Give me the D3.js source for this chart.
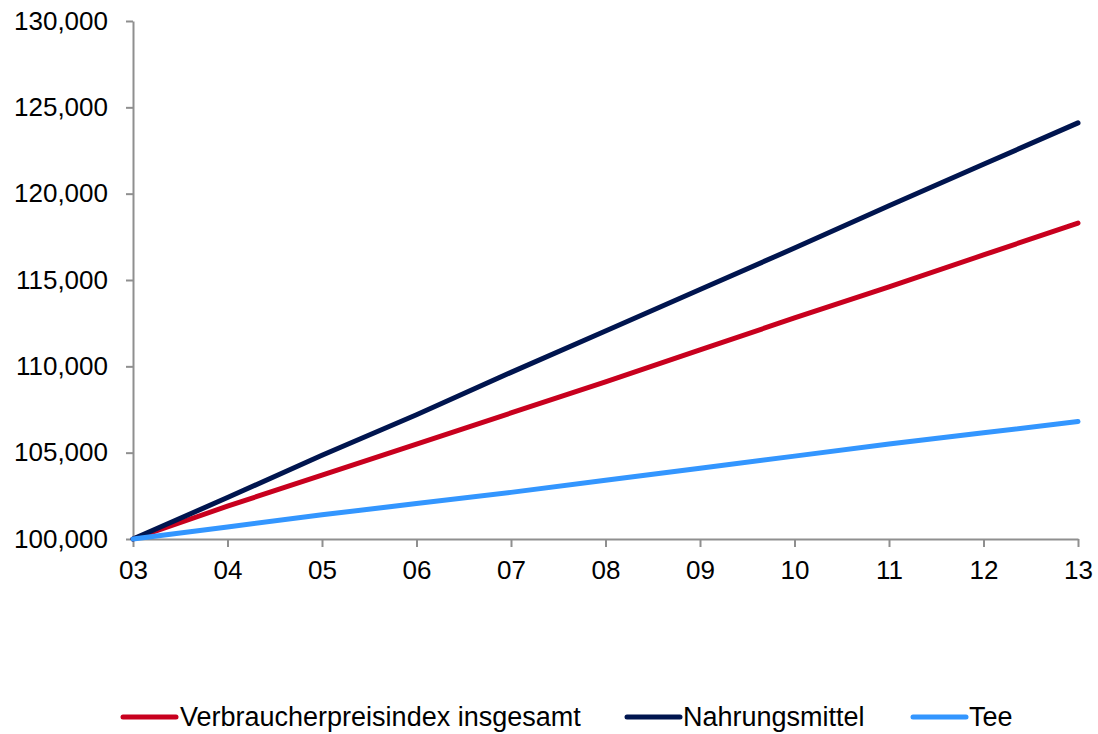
<!DOCTYPE html>
<html>
<head>
<meta charset="utf-8">
<script src="https://cdn.jsdelivr.net/npm/d3@7"></script>
<style>
  html, body { margin: 0; padding: 0; background: #fff; }
  svg { display: block; }
  text { font-family: "Liberation Sans", Arial, sans-serif; fill: #000; }
</style>
</head>
<body>
<svg id="chart" width="1098" height="734"></svg>
<script>
// Years (two-digit labels) on the category axis
const years = ["03", "04", "05", "06", "07", "08", "09", "10", "11", "12", "13"];

// Price indices, 2003 = 100
const verbraucherpreisindex = [100.0, 101.9, 103.7, 105.5, 107.3, 109.1, 110.95, 112.8, 114.6, 116.45, 118.3];
const nahrungsmittel        = [100.0, 102.4, 104.85, 107.2, 109.65, 112.05, 114.45, 116.85, 119.3, 121.7, 124.1];
const tee                   = [100.0, 100.7, 101.4, 102.05, 102.7, 103.4, 104.1, 104.8, 105.5, 106.15, 106.8];

const seriesNames  = ["Verbraucherpreisindex insgesamt", "Nahrungsmittel", "Tee"];
const seriesColors = ["#C8001E", "#00154F", "#3396FF"];

// Value axis ticks
const yTicks = [100, 105, 110, 115, 120, 125, 130];

const series = [
  { name: seriesNames[0], values: verbraucherpreisindex, color: seriesColors[0] },
  { name: seriesNames[1], values: nahrungsmittel,        color: seriesColors[1] },
  { name: seriesNames[2], values: tee,                   color: seriesColors[2] }
];

// German number formatting: comma as decimal separator
const de = d3.formatLocale({ decimal: ",", thousands: ".", grouping: [3], currency: ["", " €"] });
const fmt = de.format(".3f");

const svg = d3.select("#chart");
const plot = { left: 133, right: 1078, top: 21, bottom: 539 };

const x = d3.scalePoint().domain(years).range([plot.left, plot.right]);
const y = d3.scaleLinear().domain([100, 130]).range([plot.bottom, plot.top]);

const axisColor = "#8f8f8f";

// Y axis
const yAxis = svg.append("g")
  .attr("transform", `translate(${plot.left},0)`)
  .call(d3.axisLeft(y).tickValues(yTicks).tickFormat(fmt).tickSize(7).tickPadding(18).tickSizeOuter(0));

// X axis
const xAxis = svg.append("g")
  .attr("transform", `translate(0,${plot.bottom})`)
  .call(d3.axisBottom(x).tickSize(8).tickPadding(14).tickSizeOuter(0));

[yAxis, xAxis].forEach(g => {
  g.select(".domain").attr("stroke", axisColor).attr("stroke-width", 2);
  g.selectAll(".tick line").attr("stroke", axisColor).attr("stroke-width", 2);
  g.selectAll(".tick text")
    .attr("font-family", "'Liberation Sans', Arial, sans-serif")
    .attr("font-size", 26)
    .attr("fill", "#000");
});

// Lines
const line = d3.line()
  .x((d, i) => x(years[i]))
  .y(d => y(d));

svg.append("g")
  .selectAll("path")
  .data(series)
  .join("path")
  .attr("d", d => line(d.values))
  .attr("fill", "none")
  .attr("stroke", d => d.color)
  .attr("stroke-width", 5)
  .attr("stroke-linecap", "round")
  .attr("stroke-linejoin", "round");

// Legend
const legendY = 717;
const legendItems = [
  { x: 121, textX: 180 },
  { x: 625, textX: 683 },
  { x: 911, textX: 969 }
];

const legend = svg.append("g");
series.forEach((s, i) => {
  const pos = legendItems[i];
  legend.append("line")
    .attr("x1", pos.x + 2).attr("x2", pos.x + 55)
    .attr("y1", legendY).attr("y2", legendY)
    .attr("stroke", s.color)
    .attr("stroke-width", 5)
    .attr("stroke-linecap", "round");
  legend.append("text")
    .attr("x", pos.textX)
    .attr("y", legendY)
    .attr("dy", "0.35em")
    .attr("font-size", 27)
    .text(s.name);
});
</script>
</body>
</html>
